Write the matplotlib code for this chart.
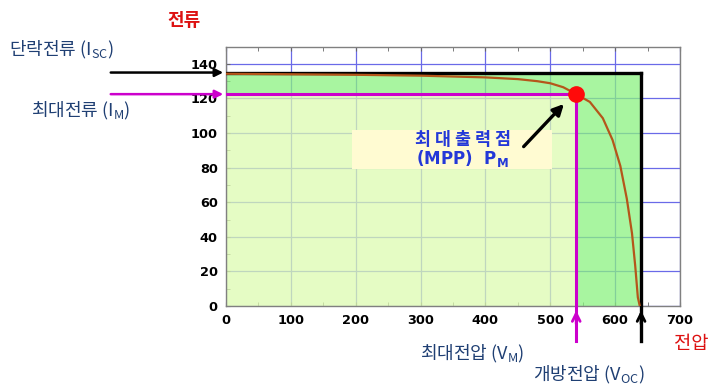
import numpy as np
import matplotlib
matplotlib.use('Agg')
import matplotlib.pyplot as plt
from matplotlib.patches import Rectangle

plt.rcParams['font.family'] = ['Noto Sans CJK KR', 'DejaVu Sans']
plt.rcParams['mathtext.default'] = 'regular'

# I-V curve
voltage = [0, 100, 200, 300, 400, 450, 480, 500, 520, 540, 561, 581, 596, 608, 618, 626, 631, 635, 638]
current = [134.3, 134, 133.7, 133.2, 132.2, 131.2, 130, 128.8, 126.5, 122.5, 118, 108.6, 96, 81, 62, 42, 23, 5, 0]

v_mpp, i_mpp = 540, 122.5
v_oc, i_sc = 640, 135

x_ticks = [0, 100, 200, 300, 400, 500, 600, 700]
y_ticks = [0, 20, 40, 60, 80, 100, 120, 140]

W, H = 717, 386
fig = plt.figure(figsize=(W / 100, H / 100), dpi=100)
ax = fig.add_axes([226 / W, 1 - 306 / H, 454 / W, (306 - 46.6) / H])
ax.set_xlim(0, 700)
ax.set_ylim(0, 150)

# grid under the (semi transparent) fills
ax.set_axisbelow(True)
ax.grid(True, color='#6a6ae8', lw=0.9)

green_kw = dict(facecolor='#8bf280', alpha=0.75, lw=0, zorder=1)
ax.add_patch(Rectangle((0, i_mpp), v_oc, i_sc - i_mpp, **green_kw))
ax.add_patch(Rectangle((v_mpp, 0), v_oc - v_mpp, i_mpp, **green_kw))
ax.add_patch(Rectangle((0, 0), v_mpp, i_mpp, facecolor='#ddfbb0', alpha=0.75, lw=0, zorder=1))

# rectangle lines
ax.plot([0, v_oc], [i_sc, i_sc], color='black', lw=2.4, zorder=3)
ax.plot([v_oc, v_oc], [i_sc, -20], color='black', lw=2.4, zorder=3, clip_on=False)
ax.plot([0, v_mpp], [i_mpp, i_mpp], color='#cc00cc', lw=2.2, zorder=3)
ax.plot([v_mpp, v_mpp], [i_mpp, -20], color='#cc00cc', lw=2.2, zorder=3, clip_on=False)

ax.plot(voltage, current, color='#b5561a', lw=1.6, zorder=4, solid_joinstyle='round')
ax.plot([v_mpp], [i_mpp], 'o', color='#ff0a0a', ms=11, zorder=5)

# arrows outside the axes
ax.annotate('', xy=(0, i_sc), xytext=(-182, i_sc), annotation_clip=False,
            arrowprops=dict(arrowstyle='-|>', color='black', lw=1.8, mutation_scale=12))
ax.annotate('', xy=(0, i_mpp), xytext=(-182, i_mpp), annotation_clip=False,
            arrowprops=dict(arrowstyle='-|>', color='#cc00cc', lw=1.8, mutation_scale=12))
ax.annotate('', xy=(v_mpp, -1), xytext=(v_mpp, -12), annotation_clip=False,
            arrowprops=dict(arrowstyle='->', color='#cc00cc', lw=2, mutation_scale=14))
ax.annotate('', xy=(v_oc, -1), xytext=(v_oc, -12), annotation_clip=False,
            arrowprops=dict(arrowstyle='->', color='black', lw=2, mutation_scale=14))

# MPP label box and arrow
ax.add_patch(Rectangle((194, 79), 309, 23, facecolor='#fffbd2', lw=0, zorder=2))
ax.annotate('', xy=(524, 118), xytext=(456, 91),
            arrowprops=dict(arrowstyle='-|>', color='black', lw=2.4, mutation_scale=16), zorder=6)
ax.text(365, 96, '최 대 출 력 점', color='#2438d8', fontsize=12.5, fontweight='bold',
        ha='center', va='center', zorder=6)
ax.text(365, 85.3, '(MPP)  P$_\\mathbf{M}$', color='#2438d8', fontsize=12, fontweight='bold',
        ha='center', va='center', zorder=6, family='DejaVu Sans')

ax.set_xticks(x_ticks)
ax.set_yticks(y_ticks)
ax.set_xticks(np.arange(50, 700, 100), minor=True)
ax.set_yticks(np.arange(10, 150, 20), minor=True)
ax.tick_params(which='both', direction='in', top=True, right=False, length=3, color='#666666')
ax.tick_params(axis='both', labelsize=9.3, pad=6)
for lbl in ax.get_xticklabels() + ax.get_yticklabels():
    lbl.set_fontweight('bold')
    lbl.set_family('DejaVu Sans')
for s in ax.spines.values():
    s.set_color('#808080')
    s.set_linewidth(1.0)


def ftext(x, y, s, **kw):
    fig.text(x / W, 1 - y / H, s, va='center', **kw)


navy = '#1f3f73'
ftext(184, 20, '전류', color='#dd1111', fontsize=13, fontweight='bold', ha='center')
ftext(9, 50, '단락전류 (I$_{SC}$)', color=navy, fontsize=13, ha='left')
ftext(31, 111, '최대전류 (I$_{M}$)', color=navy, fontsize=13, ha='left')
ftext(420, 354, '최대전압 (V$_{M}$)', color=navy, fontsize=13, ha='left')
ftext(533, 375, '개방전압 (V$_{OC}$)', color=navy, fontsize=13, ha='left')
ftext(691, 343, '전압', color='#dd1111', fontsize=13.5, ha='center')

fig.savefig('out.png', dpi=100)
